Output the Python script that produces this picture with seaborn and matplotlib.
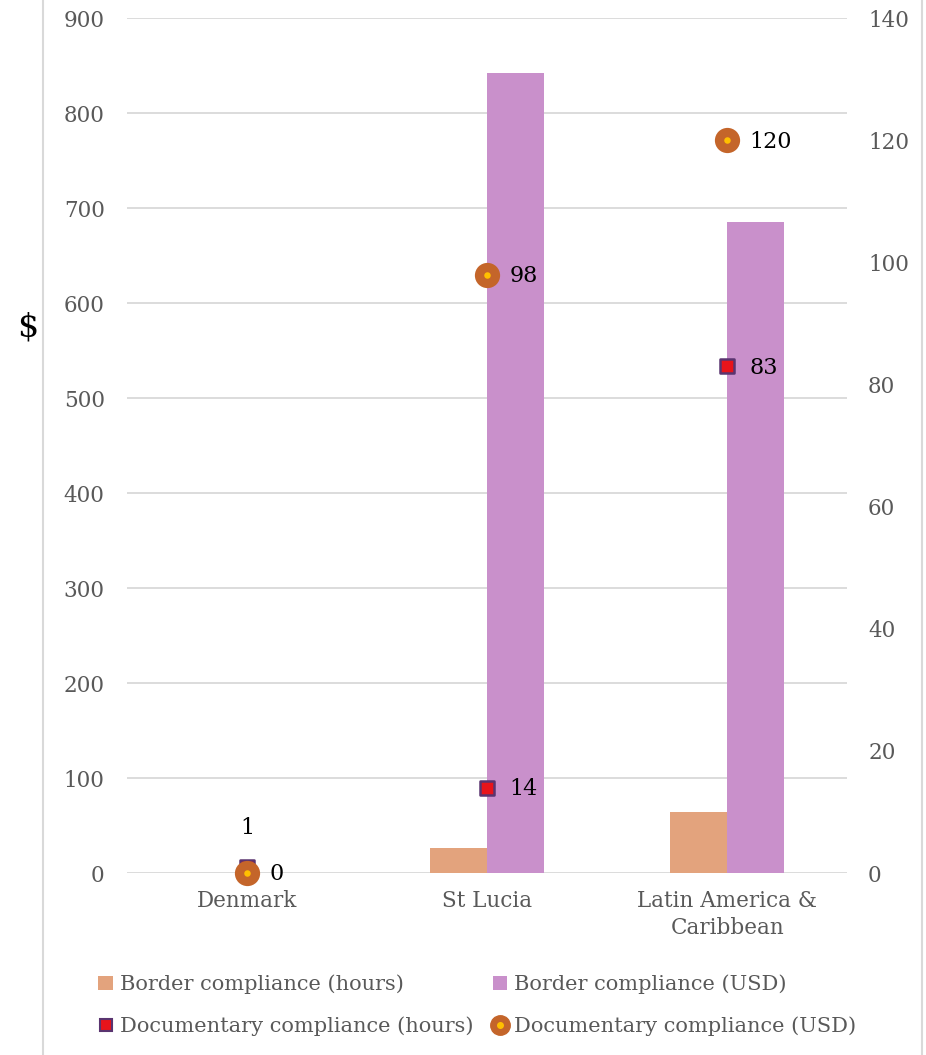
import matplotlib
matplotlib.use("Agg")
import matplotlib.pyplot as plt
from matplotlib.lines import Line2D
from matplotlib.patches import Patch
import seaborn as sns
import pandas as pd

# Trading-across-borders indicators
economies = ["Denmark", "St Lucia", "Latin America &\nCaribbean"]
border_hours = [0, 26, 64]
border_usd = [0, 842, 685]
doc_hours = [1, 14, 83]
doc_usd = [0, 98, 120]

left_ticks = [0, 100, 200, 300, 400, 500, 600, 700, 800, 900]
right_ticks = [0, 20, 40, 60, 80, 100, 120, 140]

c_bh = "#E3A37D"
c_bu = "#C990CB"
c_dh = "#E8141B"
c_dh_edge = "#5A3470"
c_du = "#C4652A"
c_du_dot = "#FFC000"
grey_txt = "#595959"
grid_c = "#D9D9D9"

sns.set_theme(style="white")
plt.rcParams["font.family"] = ["DejaVu Serif"]

bars = pd.DataFrame({
    "economy": economies * 2,
    "series": ["Border compliance (hours)"] * 3 + ["Border compliance (USD)"] * 3,
    "value": border_hours + border_usd,
})
points = pd.DataFrame({
    "economy": economies,
    "pos": range(len(economies)),
    "hours": doc_hours,
    "usd": doc_usd,
})

fig = plt.figure(figsize=(9.26, 10.55), dpi=100)
ax = fig.add_axes([0.137, 0.1725, 0.778, 0.8104])

sns.barplot(data=bars, x="economy", y="value", hue="series",
            palette=[c_bh, c_bu], width=0.475, ax=ax, legend=False,
            errorbar=None, saturation=1, linewidth=0)
ax.set_xlim(-0.5, 2.5)
ax.set_ylim(0, 900)
ax.set_yticks(left_ticks)
ax.yaxis.grid(True, color=grid_c, linewidth=1.3)
ax.set_axisbelow(True)
for s in ax.spines.values():
    s.set_visible(False)
ax.set_xlabel("")
ax.set_ylabel("")
ax.tick_params(axis="both", length=0, labelsize=15.5, labelcolor=grey_txt)
ax.tick_params(axis="y", pad=16)
ax.tick_params(axis="x", pad=12)
for lab in ax.get_xticklabels():
    lab.set_linespacing(1.3)

ax2 = ax.twinx()
ax2.set_ylim(0, 140)
ax2.set_yticks(right_ticks)
for s in ax2.spines.values():
    s.set_visible(False)
ax2.tick_params(axis="y", length=0, labelsize=15.5, labelcolor=grey_txt, pad=15)

sns.scatterplot(data=points, x="pos", y="hours", marker="s", s=95,
                color=c_dh, edgecolor=c_dh_edge, linewidth=1.8, ax=ax2,
                zorder=5, clip_on=False)
sns.scatterplot(data=points, x="pos", y="usd", marker="o", s=330,
                color=c_du, edgecolor=c_du, linewidth=0, ax=ax2,
                zorder=6, clip_on=False)
sns.scatterplot(data=points, x="pos", y="usd", marker="o", s=22,
                color=c_du_dot, linewidth=0, ax=ax2, zorder=7, clip_on=False)
ax2.set_xlim(-0.5, 2.5)
ax2.set_xlabel("")
ax2.set_ylabel("")

# Value labels
for i, (h, u) in enumerate(zip(doc_hours, doc_usd)):
    if i == 0:
        ax2.annotate(f"{h}", (i, h), xytext=(0, 20), textcoords="offset points",
                     ha="center", va="bottom", fontsize=16, color="black")
    else:
        ax2.annotate(f"{h}", (i, h), xytext=(16, -1), textcoords="offset points",
                     ha="left", va="center", fontsize=16, color="black")
    ax2.annotate(f"{u}", (i, u), xytext=(16, -1), textcoords="offset points",
                 ha="left", va="center", fontsize=16, color="black")

fig.text(0.030, 0.690, "$", fontsize=24, color="black", ha="center", va="center")

usd_handle = (
    Line2D([], [], marker="o", linestyle="none", markersize=14,
           markerfacecolor=c_du, markeredgecolor=c_du),
    Line2D([], [], marker="o", linestyle="none", markersize=4,
           markerfacecolor=c_du_dot, markeredgecolor=c_du_dot),
)
handles = [
    Patch(facecolor=c_bh, edgecolor="none"),
    Line2D([], [], marker="s", linestyle="none", markersize=9,
           markerfacecolor=c_dh, markeredgecolor=c_dh_edge, markeredgewidth=1.5),
    Patch(facecolor=c_bu, edgecolor="none"),
    usd_handle,
]
labels = ["Border compliance (hours)", "Documentary compliance (hours)",
          "Border compliance (USD)", "Documentary compliance (USD)"]
leg = fig.legend(handles, labels, ncol=2, loc="upper left",
                 bbox_to_anchor=(0.086, 0.094), frameon=False,
                 fontsize=15, handlelength=0.7, handleheight=0.7,
                 handletextpad=0.35, columnspacing=0.9, labelspacing=1.05)
for t in leg.get_texts():
    t.set_color(grey_txt)

# Outer frame lines
for xf in (0.0465, 0.9955):
    fig.add_artist(Line2D([xf, xf], [0, 1], transform=fig.transFigure,
                          color=grid_c, linewidth=1.5))

fig.savefig("out.png", dpi=100)
